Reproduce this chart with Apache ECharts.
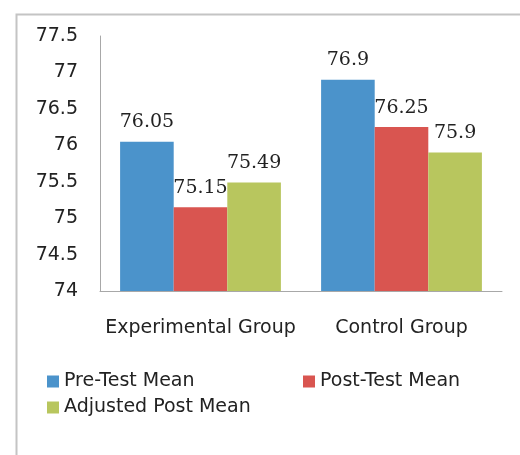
<!DOCTYPE html>
<html lang="en">
<head>
    <meta charset="UTF-8">
    <script src="https://cdn.jsdelivr.net/npm/echarts@6/dist/echarts.min.js" type="text/javascript"></script>
    <style>
        html,body{margin:0;padding:0;background:#fff}
        #chart{width:520px;height:455px}
    </style>
    <title>Means</title>
</head>
<body>
    <div id="chart"></div>
    <script type="text/javascript">
        var groups = ['Experimental Group', 'Control Group'];
        var preTest = [76.05, 76.9];
        var postTest = [75.15, 76.25];
        var adjusted = [75.49, 75.9];
        var seriesNames = ['Pre-Test Mean', 'Post-Test Mean', 'Adjusted Post Mean'];
        var colors = ['#4b93cb', '#d95550', '#b8c65e'];
        var yMin = 74, yMax = 77.5, yStep = 0.5;

        var sansFont = '"DejaVu Sans", sans-serif';
        var serifFont = '"DejaVu Serif", serif';

        function barSeries(name, values, color) {
            return {
                name: name,
                type: 'bar',
                data: values,
                barGap: 0,
                barCategoryGap: '20%',
                itemStyle: {color: color},
                label: {
                    show: true,
                    position: 'top',
                    distance: 10,
                    color: '#222',
                    fontFamily: serifFont,
                    fontSize: 19
                }
            };
        }

        function legendAt(name, left, top) {
            return {
                data: [name],
                left: left,
                top: top,
                padding: 0,
                icon: 'rect',
                itemWidth: 12,
                itemHeight: 12,
                itemGap: 5,
                textStyle: {color: '#222', fontFamily: sansFont, fontSize: 19}
            };
        }

        var ec = echarts.init(document.getElementById('chart'));
        ec.setOption({
            animation: false,
            color: colors,
            graphic: [{
                type: 'rect',
                left: 14,
                top: 12,
                shape: {width: 530, height: 470},
                style: {fill: 'none', stroke: '#c4c4c4', lineWidth: 2}
            }],
            grid: {left: 100, right: 18, top: 36, bottom: 164},
            legend: [
                legendAt(seriesNames[0], 47, 372),
                legendAt(seriesNames[1], 303, 372),
                legendAt(seriesNames[2], 47, 398)
            ],
            xAxis: {
                type: 'category',
                data: groups,
                axisLine: {lineStyle: {color: '#a8a8a8'}},
                axisTick: {show: false},
                axisLabel: {interval: 0, margin: 28, color: '#222', fontFamily: sansFont, fontSize: 19}
            },
            yAxis: {
                type: 'value',
                min: yMin,
                max: yMax,
                interval: yStep,
                axisLine: {show: true, lineStyle: {color: '#a8a8a8'}},
                axisTick: {show: false},
                splitLine: {show: false},
                axisLabel: {margin: 22, color: '#222', fontFamily: sansFont, fontSize: 19}
            },
            series: [
                barSeries(seriesNames[0], preTest, colors[0]),
                barSeries(seriesNames[1], postTest, colors[1]),
                barSeries(seriesNames[2], adjusted, colors[2])
            ]
        });
    </script>
</body>
</html>
